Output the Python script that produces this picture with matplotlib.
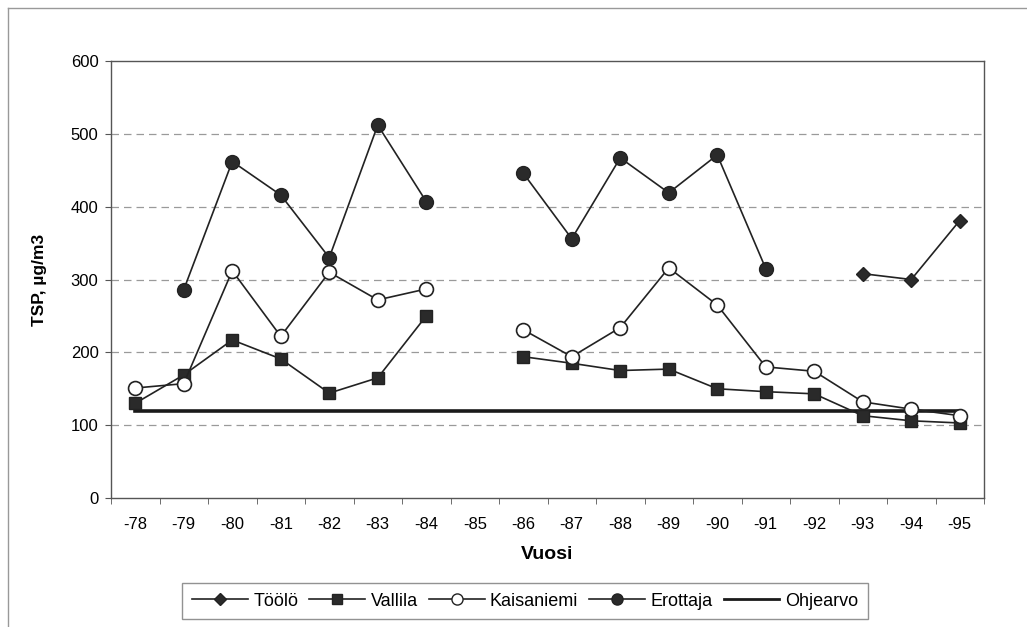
import numpy as np
import matplotlib as mpl
import matplotlib.pyplot as plt
from matplotlib.lines import Line2D

mpl.rcParams['font.family'] = ['Liberation Sans', 'DejaVu Sans']

nan = np.nan
years = ['-78', '-79', '-80', '-81', '-82', '-83', '-84', '-85', '-86',
         '-87', '-88', '-89', '-90', '-91', '-92', '-93', '-94', '-95']

toolo = [nan] * 15 + [308, 300, 381]
vallila = [130, 169, 217, 191, 144, 165, 250, nan, 194,
           185, 175, 177, 150, 146, 143, 113, 106, 103]
kaisaniemi = [151, 157, 312, 222, 310, 272, 287, nan, 231,
              194, 234, 316, 265, 180, 174, 132, 122, 113]
erottaja = [nan, 286, 462, 416, 330, 512, 407, nan, 446,
            356, 467, 419, 471, 315, nan, nan, nan, nan]
ohjearvo = [120] * len(years)

x = np.arange(len(years))

fig = plt.figure(figsize=(10.27, 6.27), dpi=100)
fig.patch.set_facecolor('white')
ax = fig.add_axes([111 / 1027, 1 - 498 / 627, 873 / 1027, 437 / 627])

ax.set_ylim(0, 600)
ax.set_xlim(-0.5, len(years) - 0.5)
ax.set_yticks(np.arange(0, 601, 100))
ax.set_xticks(x)
ax.set_xticklabels(years)
ax.set_xticks(np.arange(-0.5, len(years), 1), minor=True)
ax.tick_params(axis='x', which='major', length=0, pad=14, labelsize=12)
ax.tick_params(axis='x', which='minor', length=4, color='#555555')
ax.tick_params(axis='y', length=4, labelsize=12, color='#555555', pad=5)

for v in range(100, 600, 100):
    ax.axhline(v, color='#9a9a9a', lw=0.9, ls=(0, (6, 4)), zorder=0)

for s in ax.spines.values():
    s.set_color('#555555')
    s.set_linewidth(1.0)

ax.plot(x, ohjearvo, color='#1a1a1a', lw=2.6, zorder=2)
ax.plot(x, vallila, color='#222222', lw=1.2, marker='s', ms=9,
        mfc='#2a2a2a', mec='#222222', zorder=3)
ax.plot(x, kaisaniemi, color='#222222', lw=1.2, marker='o', ms=10,
        mfc='white', mec='#222222', mew=1.2, zorder=4)
ax.plot(x, erottaja, color='#222222', lw=1.2, marker='o', ms=10,
        mfc='#2a2a2a', mec='#222222', zorder=4)
ax.plot(x, toolo, color='#222222', lw=1.2, marker='D', ms=7,
        mfc='#2a2a2a', mec='#222222', zorder=4)

ax.set_ylabel('TSP, µg/m3', fontsize=12.5, fontweight='bold', labelpad=17)
ax.set_xlabel('Vuosi', fontsize=14, fontweight='bold', labelpad=10)

handles = [
    Line2D([], [], color='#222222', lw=1.2, marker='D', ms=6, mfc='#2a2a2a'),
    Line2D([], [], color='#222222', lw=1.2, marker='s', ms=7, mfc='#2a2a2a'),
    Line2D([], [], color='#222222', lw=1.2, marker='o', ms=8, mfc='white'),
    Line2D([], [], color='#222222', lw=1.2, marker='o', ms=8, mfc='#2a2a2a'),
    Line2D([], [], color='#1a1a1a', lw=2.0),
]
labels = ['Töölö', 'Vallila', 'Kaisaniemi', 'Erottaja', 'Ohjearvo']
leg = fig.legend(handles, labels, loc='center', ncol=5,
                 bbox_to_anchor=(525 / 1027, 1 - 601 / 627),
                 frameon=True, fancybox=False, fontsize=13,
                 handlelength=3.1, handletextpad=0.3, columnspacing=0.6,
                 borderpad=0.55)
leg.get_frame().set_edgecolor('#777777')
leg.get_frame().set_linewidth(1.0)

# thin frame around the whole chart
fig.add_artist(Line2D([8 / 1027, 8 / 1027], [0, 1 - 8 / 627],
                      transform=fig.transFigure, color='#999999', lw=1.0))
fig.add_artist(Line2D([8 / 1027, 1], [1 - 8 / 627, 1 - 8 / 627],
                      transform=fig.transFigure, color='#999999', lw=1.0))

fig.savefig('out.png', dpi=100)
